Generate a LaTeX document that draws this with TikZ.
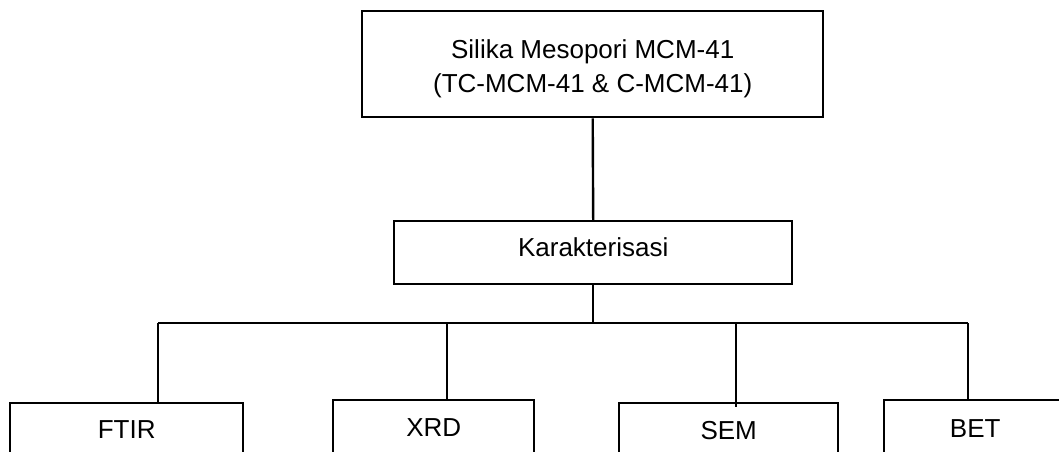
\documentclass[tikz,border=0pt]{standalone}
\usepackage{fontspec}
\setmainfont{Liberation Sans}
\begin{document}
\begin{tikzpicture}[x=1pt,y=-1pt,
  box/.style={draw=black, line width=2.4pt, inner sep=0pt, fill=white},
  txt/.style={font=\fontsize{26}{34}\selectfont},
  link/.style={draw=black, line width=2.4pt}]
\useasboundingbox (0,0) rectangle (1059,451);
\clip (0,0) rectangle (1059,451);
\fill[white] (0,0) rectangle (1059,451);
% top box
\node[box, txt, align=center, anchor=north west, minimum width=461pt, minimum height=106pt] (top) at (361,10)
  {\rule{0pt}{27pt}Silika Mesopori MCM-41\\(TC-MCM-41 \& C-MCM-41)};
% middle box
\node[box, txt, anchor=north west, minimum width=398pt, text height=35pt, text depth=28pt] (kar) at (393,220) {Karakterisasi};
% bottom boxes
\node[box, txt, anchor=north west, minimum width=233pt, text height=35pt, text depth=60pt] (ftir) at (9,402) {FTIR};
\node[box, txt, anchor=north west, minimum width=201pt, text height=36pt, text depth=60pt] (xrd) at (332,399) {XRD};
\node[box, txt, anchor=north west, minimum width=219pt, text height=36pt, text depth=60pt] (sem) at (618,402) {SEM};
\node[box, txt, anchor=north west, minimum width=182pt, text height=37pt, text depth=60pt] (bet) at (883,399) {BET};
% connector coordinates
\coordinate (d1) at (158,323);
\coordinate (d2) at (447,323);
\coordinate (d3) at (736,323);
\coordinate (d4) at (968,323);
\draw[link] (top.south) -- (kar.north);
\draw[link] (kar.south) -- (kar.south |- d1);
\draw[link] (d1) -- (d4);
\draw[link] (d1) -- (d1 |- ftir.north);
\draw[link] (d2) -- (d2 |- xrd.north);
\draw[link] (d3) -- ([yshift=-5pt]d3 |- sem.north);
\draw[link] (d4) -- (d4 |- bet.north);
\end{tikzpicture}
\end{document}
